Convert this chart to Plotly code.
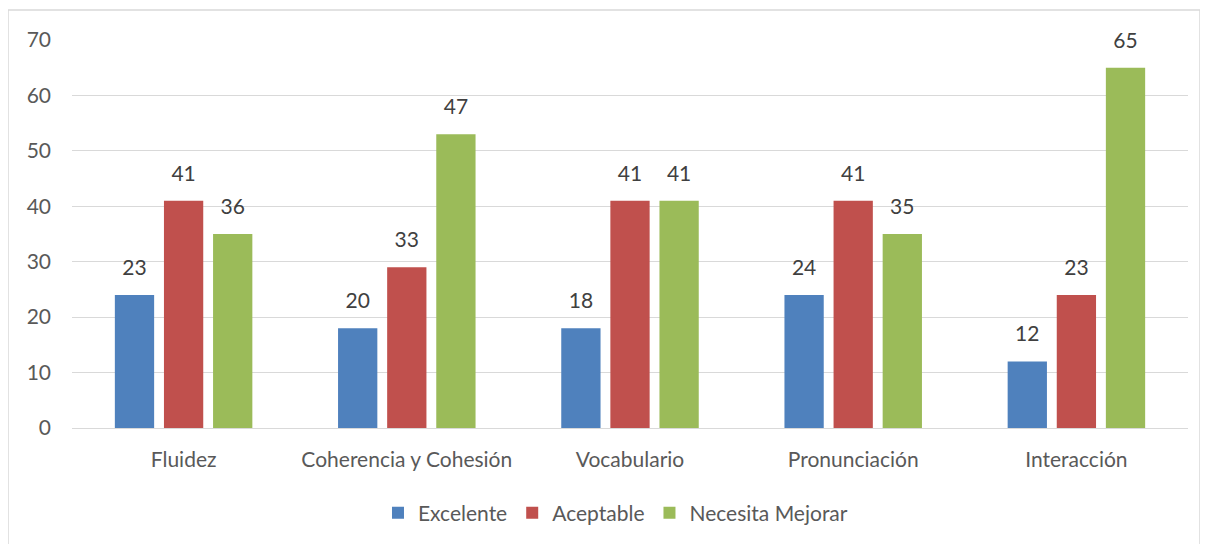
import plotly.graph_objects as go

categorias = ["Fluidez", "Coherencia y Cohesión", "Vocabulario", "Pronunciación", "Interacción"]

# alturas de las barras tal como se dibujan
excelente = [24, 18, 18, 24, 12]
aceptable = [41, 29, 41, 41, 24]
necesita_mejorar = [35, 53, 41, 35, 65]

# etiquetas que muestra el gráfico encima de cada barra
etiquetas_excelente = ["23", "20", "18", "24", "12"]
etiquetas_aceptable = ["41", "33", "41", "41", "23"]
etiquetas_necesita = ["36", "47", "41", "35", "65"]

FONT = "Lato, 'Open Sans', sans-serif"
TEXT_COLOR = "#404040"
AXIS_COLOR = "#595959"
GRID = "#d9d9d9"
SIZE = 21

# la página tiene 8px de margen, así que la figura es un poco más chica
W, H = 1200, 536
L, R, T, B = 64, 20, 32, 116
PW, PH = W - L - R, H - T - B

series = [
    ("Excelente", excelente, etiquetas_excelente, "#4F81BD"),
    ("Aceptable", aceptable, etiquetas_aceptable, "#C0504D"),
    ("Necesita Mejorar", necesita_mejorar, etiquetas_necesita, "#9BBB59"),
]

fig = go.Figure()
for nombre, valores, etiquetas, color in series:
    fig.add_trace(go.Bar(
        x=categorias,
        y=valores,
        name=nombre,
        marker=dict(color=color, line=dict(width=0)),
        offsetgroup=nombre,
    ))

# etiquetas separadas para dejar aire entre el número y la barra
for nombre, valores, etiquetas, color in series:
    fig.add_trace(go.Scatter(
        x=categorias,
        y=valores,
        mode="markers+text",
        text=etiquetas,
        textposition="top center",
        textfont=dict(family=FONT, size=SIZE, color=TEXT_COLOR),
        marker=dict(size=22, opacity=0),
        offsetgroup=nombre,
        showlegend=False,
        hoverinfo="skip",
        cliponaxis=False,
    ))

fig.update_layout(
    width=W,
    height=H,
    margin=dict(l=L, r=R, t=T, b=B, autoexpand=False),
    paper_bgcolor="white",
    plot_bgcolor="white",
    barmode="group",
    scattermode="group",
    bargap=0.34,
    bargroupgap=0.2,
    scattergap=0.34,
    font=dict(family=FONT, size=SIZE, color=AXIS_COLOR),
    legend=dict(
        orientation="h",
        x=0.487,
        xanchor="center",
        y=(T + PH - 505) / PH,
        yanchor="middle",
        font=dict(family=FONT, size=SIZE, color=AXIS_COLOR),
        itemwidth=30,
        traceorder="normal",
    ),
    showlegend=True,
)

fig.update_yaxes(
    range=[0, 70],
    dtick=10,
    showgrid=True,
    gridcolor=GRID,
    gridwidth=1,
    zeroline=True,
    zerolinecolor=GRID,
    zerolinewidth=1,
    showline=False,
    ticks="",
    ticklabelstandoff=20,
    tickfont=dict(family=FONT, size=SIZE, color=AXIS_COLOR),
)
fig.update_xaxes(
    showgrid=False,
    showline=False,
    ticks="",
    ticklabelstandoff=17,
    tickfont=dict(family=FONT, size=SIZE, color=AXIS_COLOR),
)

# marco gris claro alrededor del gráfico
fig.add_shape(
    type="rect",
    xref="paper", yref="paper",
    x0=(0 - L) / PW, x1=(1192 - L) / PW,
    y0=(T + PH - 560) / PH, y1=(T + PH - 2) / PH,
    line=dict(color="#d9d9d9", width=1.5),
    fillcolor="rgba(0,0,0,0)",
    layer="below",
)

fig.write_html("out.html")
